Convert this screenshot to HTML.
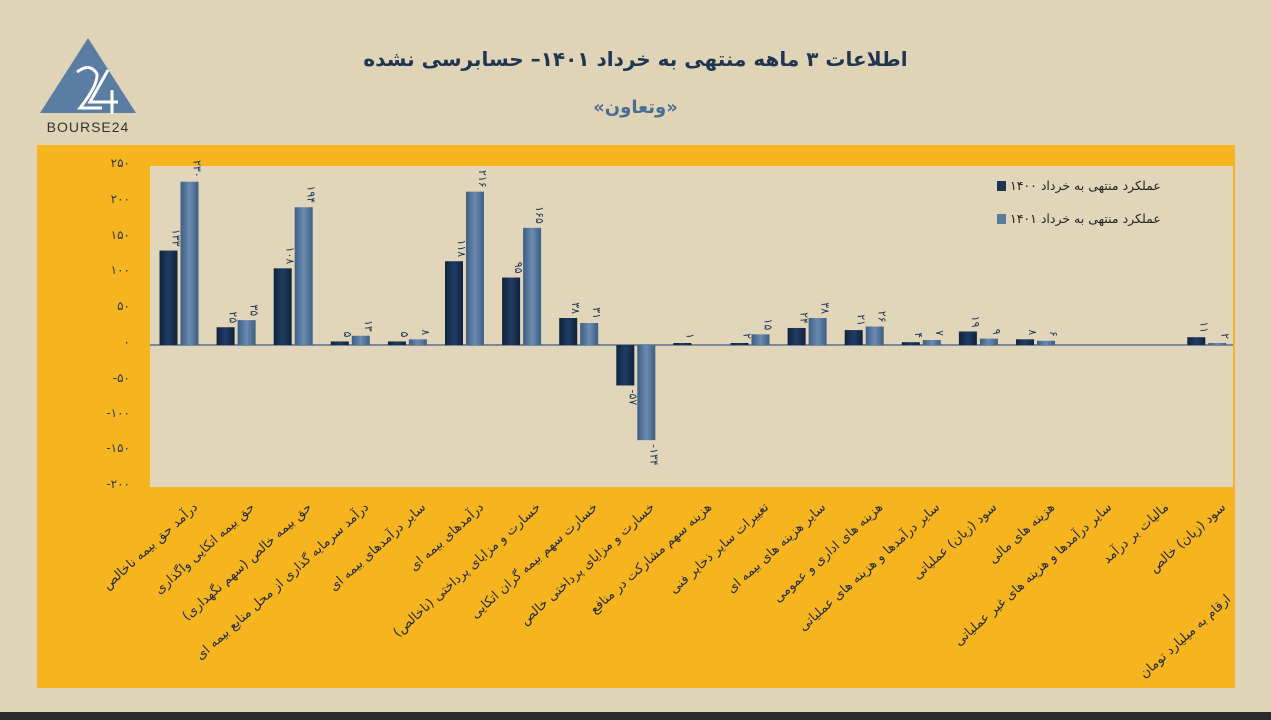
<!DOCTYPE html>
<html><head><meta charset="utf-8"><style>
html,body{margin:0;padding:0}
body{width:1271px;height:720px;background:#dfd4b7;position:relative;overflow:hidden;font-family:"Liberation Sans","Noto Sans CJK SC",sans-serif}
.fa{font-family:"DejaVu Sans","Liberation Sans",sans-serif}
.lbl{position:absolute;white-space:nowrap;direction:rtl;font-size:13px;color:#222a38;transform:translate(-100%,0) rotate(-42deg);transform-origin:100% 0}
</style></head><body>
<div style="position:absolute;left:0;top:712px;width:1271px;height:8px;background:#2b2b2b"></div>
<svg width="140" height="140" style="position:absolute;left:30px;top:30px">
<polygon points="58,8 10,83 106,83" fill="#5b7ca3"/>
<path d="M47,42 Q60,32 67,44 Q68,55 50,78 L72,78" stroke="#fff" stroke-width="3" fill="none"/>
<path d="M78,40 L60,72 L88,72 M82,60 L82,84" stroke="#fff" stroke-width="3" fill="none"/>
<text x="58" y="102" text-anchor="middle" font-size="14" letter-spacing="1" fill="#333" font-family="Liberation Sans">BOURSE24</text>
</svg>
<div class="fa" style="position:absolute;left:0;width:1271px;top:47px;text-align:center;font-size:20px;font-weight:bold;color:#1f3550;direction:rtl">اطلاعات ۳ ماهه منتهی به خرداد ۱۴۰۱– حسابرسی نشده</div>
<div class="fa" style="position:absolute;left:0;width:1271px;top:97px;text-align:center;font-size:18px;font-weight:bold;color:#4a6d92;direction:rtl">«وتعاون»</div>
<div style="position:absolute;left:37px;top:145px;width:1198px;height:543px;background:#f6b51f"></div>
<svg width="1271" height="720" style="position:absolute;left:0;top:0" class="fa">
<defs>
<linearGradient id="d" x1="0" x2="1"><stop offset="0" stop-color="#0f223c"/><stop offset=".5" stop-color="#1f3d63"/><stop offset="1" stop-color="#0f223c"/></linearGradient>
<linearGradient id="l" x1="0" x2="1"><stop offset="0" stop-color="#3e5d82"/><stop offset=".5" stop-color="#6b8bb2"/><stop offset="1" stop-color="#3e5d82"/></linearGradient>
</defs>
<rect x="150" y="166" width="1083" height="321" fill="#e1d6ba"/>
<g font-size="12" fill="#2a3a50" text-anchor="end" style="direction:ltr;unicode-bidi:bidi-override">
<text x="130" y="167">۲۵۰</text><text x="130" y="203">۲۰۰</text><text x="130" y="239">۱۵۰</text><text x="130" y="274">۱۰۰</text><text x="130" y="310">۵۰</text><text x="130" y="346">۰</text><text x="130" y="382">-۵۰</text><text x="130" y="417">-۱۰۰</text><text x="130" y="452">-۱۵۰</text><text x="130" y="488">-۲۰۰</text>
</g>
<line x1="150" y1="345" x2="1233" y2="345" stroke="#7a8a9a" stroke-width="2"/>
<g id="bars"></g>
<rect x="997" y="181" width="9" height="10" fill="#1a3657"/>
<rect x="997" y="214" width="9" height="10" fill="#5a7aa0"/>
<text x="1010" y="190" font-size="12.5" fill="#222" text-anchor="end" style="direction:rtl">عملکرد منتهی به خرداد ۱۴۰۰</text>
<text x="1010" y="223" font-size="12.5" fill="#222" style="direction:rtl" text-anchor="end">عملکرد منتهی به خرداد ۱۴۰۱</text>
</svg>
<div id="labels"></div>
<div class="lbl fa" style="left:1224px;top:592px;font-size:13px">ارقام به میلیارد تومان</div>
<script>
var d=[[133,230],[25,35],[108,194],[5,13],[5,8],[118,216],[95,165],[38,31],[-57,-134],[1,0],[2,15],[24,38],[21,26],[4,7],[19,9],[8,6],[0,0],[0,0],[11,2]];
var names=["درآمد حق بیمه ناخالص","حق بیمه اتکایی واگذاری","حق بیمه خالص (سهم نگهداری)","درآمد سرمایه گذاری از محل منابع بیمه ای","سایر درآمدهای بیمه ای","درآمدهای بیمه ای","خسارت و مزایای پرداختی (ناخالص)","خسارت سهم بیمه گران اتکایی","خسارت و مزایای پرداختی خالص","هزینه سهم مشارکت در منافع","تغییرات سایر ذخایر فنی","سایر هزینه های بیمه ای","هزینه های اداری و عمومی","سایر درآمدها و هزینه های عملیاتی","سود (زیان) عملیاتی","هزینه های مالی","سایر درآمدها و هزینه های غیر عملیاتی","مالیات بر درآمد","سود (زیان) خالص"];
function fa(n){var s=String(Math.abs(n)).replace(/\d/g,function(c){return "۰۱۲۳۴۵۶۷۸۹"[c]});return (n<0?"-":"")+s;}
var g=document.getElementById('bars'),h='',L='';
var k=0.71,z=345;
d.forEach(function(p,i){var c=179+i*57.1;
[0,1].forEach(function(j){var v=p[j];var x=j?c+1.5:c-19.5;var w=18;var hh=Math.max(Math.abs(v)*k,2);
if(v===0) return;
var y=v>=0?z-hh:z;h+='<rect x="'+x+'" y="'+y+'" width="'+w+'" height="'+hh+'" fill="url(#'+(j?'l':'d')+')"/>';
var tx=x+w/2+4,ty=v>=0?y-4:y+hh+4;
h+='<text font-size="11" fill="#1f3550" style="direction:ltr;unicode-bidi:bidi-override" transform="translate('+tx+','+ty+') rotate(90)" text-anchor="'+(v>=0?'end':'start')+'">'+fa(v)+'</text>';});
L+='<div class="lbl fa" style="left:'+(c+12)+'px;top:500px">'+names[i]+'</div>';});
g.innerHTML=h;document.getElementById('labels').innerHTML=L;
</script>
</body></html>
